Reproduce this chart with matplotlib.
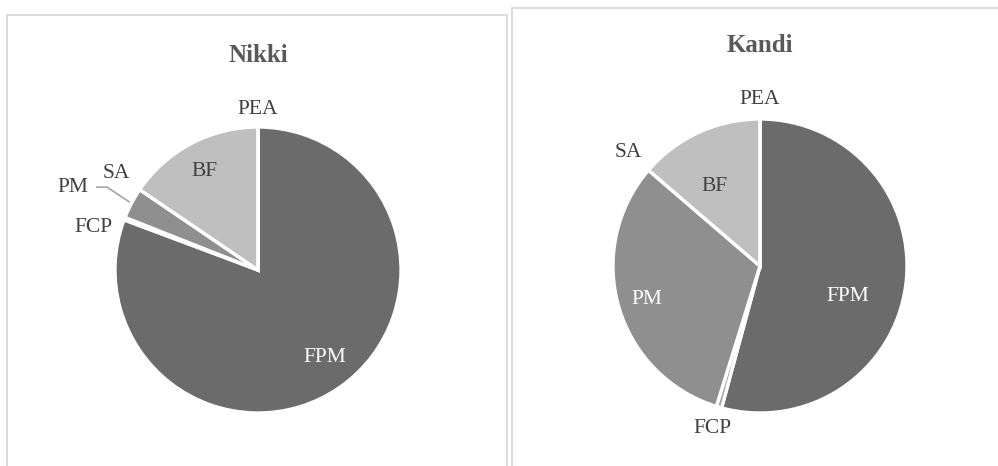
import numpy as np
import matplotlib.pyplot as plt
from matplotlib.patches import Rectangle

# category order as drawn, clockwise from 12 o'clock
categories = ['FPM', 'FCP', 'PM', 'SA', 'BF', 'PEA']
nikki = [80.7, 0.3, 3.5, 0.0, 15.5, 0.0]
kandi = [54.2, 0.6, 31.5, 0.0, 13.7, 0.0]

colors = ['#6b6b6b', '#a5a5a5', '#8f8f8f', '#7a7a7a', '#bfbfbf', '#d0d0d0']

plt.rcParams['font.family'] = ['Liberation Serif', 'DejaVu Serif']

fig = plt.figure(figsize=(9.98, 4.66), dpi=100)

# chart frames
fig.patches.append(Rectangle((7/998, -0.1), 500/998, 1.1 - 15/466,
                             transform=fig.transFigure, fill=False,
                             edgecolor='#d9d9d9', linewidth=1.3))
fig.patches.append(Rectangle((512/998, -0.1), 0.6, 1.1 - 8/466,
                             transform=fig.transFigure, fill=False,
                             edgecolor='#d9d9d9', linewidth=1.3))


def draw_pie(ax, values, title, title_y, dists, shifts, text_cols, leader):
    wedges, _ = ax.pie(values, colors=colors, startangle=90, counterclock=False,
                       radius=1.0, wedgeprops=dict(edgecolor='white', linewidth=2.4))
    ax.set_xlim(-1, 1)
    ax.set_ylim(-1, 1)
    ax.set_aspect('equal')
    ax.axis('off')
    for i, w in enumerate(wedges):
        mid = (w.theta1 + w.theta2) / 2.0
        a = np.deg2rad(mid + shifts[i])
        tx, ty = dists[i] * np.cos(a), dists[i] * np.sin(a)
        ax.text(tx, ty, categories[i], ha='center', va='center', fontsize=15.5,
                color=text_cols[i], clip_on=False)
        if categories[i] in leader:
            m = np.deg2rad(mid)
            ex, ey = 1.02 * np.cos(m), 1.02 * np.sin(m)
            ax.plot([tx + 0.17, tx + 0.24, ex], [ty, ty, ey], color='#a6a6a6',
                    linewidth=1.2, clip_on=False)
    bb = ax.get_position()
    fig.text(bb.x0 + bb.width / 2, title_y, title, ha='center', va='center',
             fontsize=18, fontweight='bold', color='#595959')


ax1 = fig.add_axes([115/998, 53/466, 286/998, 286/466])
draw_pie(ax1, nikki, 'Nikki', 1 - 55/466,
         dists=[0.77, 1.19, 1.42, 1.2, 0.78, 1.12],
         shifts=[2.6, 6.7, 3.8, 0, 0.5, 0],
         text_cols=['white', '#404040', '#404040', '#404040', '#404040', '#404040'],
         leader=['PM'])

ax2 = fig.add_axes([613/998, 53/466, 294/998, 294/466])
draw_pie(ax2, kandi, 'Kandi', 1 - 45/466,
         dists=[0.63, 1.15, 0.8, 1.18, 0.62, 1.13],
         shifts=[-11.8, 0, 0.7, 0, 5, 0],
         text_cols=['white', '#404040', 'white', '#404040', '#404040', '#404040'],
         leader=[])

fig.savefig('out.png', dpi=100)
